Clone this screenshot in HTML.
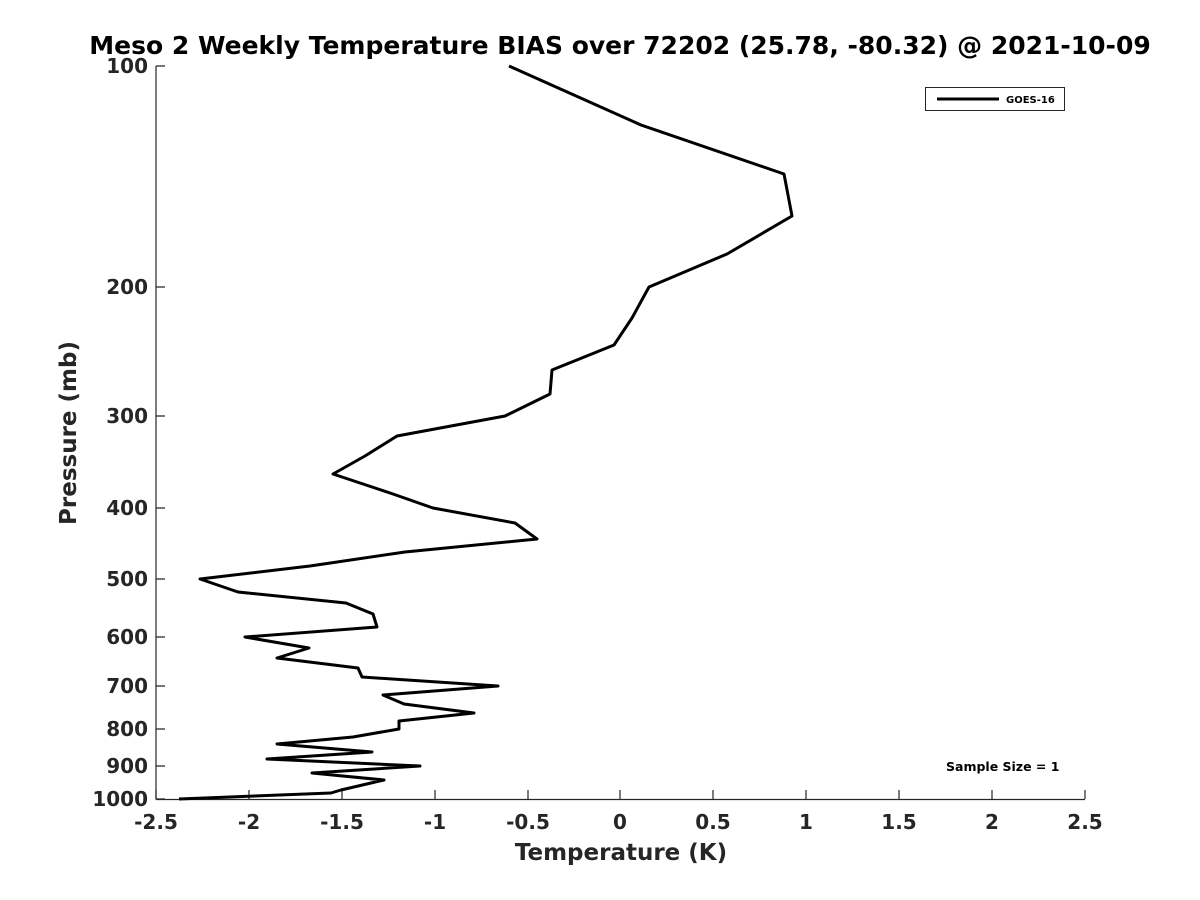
<!DOCTYPE html>
<html><head><style>body{margin:0;background:#fff}svg{display:block}</style></head><body>
<svg width="1200" height="900" xmlns="http://www.w3.org/2000/svg" font-family="DejaVu Sans, Liberation Sans, sans-serif" font-weight="bold">
<rect width="1200" height="900" fill="#fff"/>
<text x="620" y="54" text-anchor="middle" font-size="25" fill="#000">Meso 2 Weekly Temperature BIAS over 72202 (25.78, -80.32) @ 2021-10-09</text>
<g stroke="#262626" stroke-width="1.2" fill="none">
<line x1="156" y1="66" x2="156" y2="799.5"/>
<line x1="156" y1="799.5" x2="1085" y2="799.5"/>
<path d="M156 66h9M156 287h9M156 416h9M156 508h9M156 579h9M156 637h9M156 686h9M156 729h9M156 766h9M156 799h9"/>
<path d="M156 799v-9M249 799v-9M342 799v-9M435 799v-9M528 799v-9M620 799v-9M713 799v-9M806 799v-9M899 799v-9M992 799v-9M1085 799v-9"/>
</g>
<g font-size="20" fill="#262626" text-anchor="end">
<text x="148" y="73">100</text><text x="148" y="294">200</text><text x="148" y="423">300</text><text x="148" y="515">400</text><text x="148" y="586">500</text><text x="148" y="644">600</text><text x="148" y="693">700</text><text x="148" y="736">800</text><text x="148" y="773">900</text><text x="148" y="806">1000</text>
</g>
<g font-size="20" fill="#262626" text-anchor="middle">
<text x="156" y="829">-2.5</text><text x="249" y="829">-2</text><text x="342" y="829">-1.5</text><text x="435" y="829">-1</text><text x="528" y="829">-0.5</text><text x="620" y="829">0</text><text x="713" y="829">0.5</text><text x="806" y="829">1</text><text x="899" y="829">1.5</text><text x="992" y="829">2</text><text x="1085" y="829">2.5</text>
</g>
<text x="621" y="860" text-anchor="middle" font-size="23" fill="#262626">Temperature (K)</text>
<text transform="translate(76,433) rotate(-90)" text-anchor="middle" font-size="23" fill="#262626">Pressure (mb)</text>
<polyline fill="none" stroke="#000" stroke-width="3" stroke-linejoin="round" points="509,66 641,125 784,174 792,216 727,254 649,287 632,318 614,345 552,370 550,394 505,416 397,436 365,456 333,474 393,494 433,508 515,523 537,539 405,552 310,566 200,579 238,592 346,603 373,614 377,627 245,637 309,648 277,658 358,668 362,677 498,686 383,695 404,704 474,713 399,721 399,729 353,737 277,744 372,752 267,759 420,766 312,773 384,780 341,790 331,793 179,799"/>
<rect x="925.5" y="87.5" width="139" height="23" fill="#fff" stroke="#262626" stroke-width="1"/>
<line x1="937" y1="99" x2="999" y2="99" stroke="#000" stroke-width="3"/>
<text x="1006" y="103" font-size="10" fill="#000">GOES-16</text>
<text x="946" y="771" font-size="12.5" fill="#000">Sample Size = 1</text>
</svg>
</body></html>
